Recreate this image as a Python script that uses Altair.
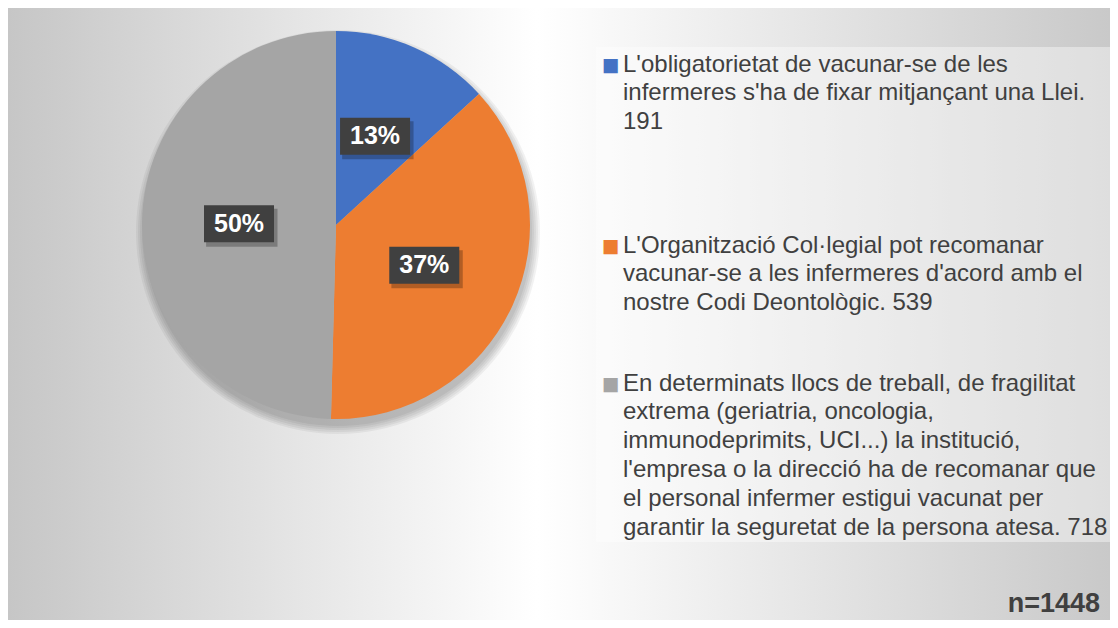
import altair as alt
import pandas as pd

# ---- data ----
categories = [
    "L'obligatorietat de vacunar-se de les\ninfermeres s'ha de fixar mitjançant una Llei.",
    "L'Organització Col·legial pot recomanar\nvacunar-se a les infermeres d'acord amb el\nnostre Codi Deontològic.",
    "En determinats llocs de treball, de fragilitat\nextrema (geriatria, oncologia,\nimmunodeprimits, UCI...) la institució,\nl'empresa o la direcció ha de recomanar que\nel personal infermer estigui vacunat per\ngarantir la seguretat de la persona atesa.",
]
values = [191, 539, 718]
value_sep = ["\n", " ", " "]
colors = ["#4472C4", "#ED7D31", "#A5A5A5"]
n_label = "n=1448"

# ---- layout ----
W, H = 1102, 612
CX, CY, R = 328, 217, 194
LR = 97
TEXT = "#404040"
LH = 28.8
LEG_Y0, LEG_STEP = 85.5, 181

legend_text = [c + s + str(v) for c, s, v in zip(categories, value_sep, values)]
marker_text = ["■" for _ in legend_text]

df = pd.DataFrame({
    "idx": list(range(len(values))),
    "cat": categories,
    "value": values,
    "legend": legend_text,
    "marker": marker_text,
})
one = pd.DataFrame({"a": [0]})

color = alt.Color("cat:N", scale=alt.Scale(domain=categories, range=colors), legend=None)

bg = alt.Chart(one).mark_rect(
    fill={
        "gradient": "linear", "x1": 0, "y1": 0.5, "x2": 1, "y2": 0.5,
        "stops": [
            {"offset": 0, "color": "#C6C6C6"},
            {"offset": 0.48, "color": "#FFFFFF"},
            {"offset": 1, "color": "#C9C9C9"},
        ],
    }
).encode(x=alt.value(0), x2=alt.value(W), y=alt.value(0), y2=alt.value(H))

legend_box = alt.Chart(one).mark_rect(fill="white", opacity=0.4).encode(
    x=alt.value(588), x2=alt.value(1106), y=alt.value(39), y2=alt.value(534)
)

shadows = [
    alt.Chart(one).mark_arc(theta=0, theta2=6.2832, outerRadius=R + 2 * k, fill="black", opacity=0.05)
    .encode(x=alt.value(CX + 2), y=alt.value(CY + 7))
    for k in range(0, 5)
]

pie = alt.Chart(df).mark_arc(outerRadius=R).encode(
    theta=alt.Theta("value:Q", stack=True),
    color=color,
    order=alt.Order("idx:Q"),
    x=alt.value(CX),
    y=alt.value(CY),
)

lab = alt.Chart(df).transform_joinaggregate(
    total="sum(value)"
).transform_window(
    cum="sum(value)", sort=[alt.SortField("idx")], frame=[None, 0]
).transform_calculate(
    mid="(datum.cum - datum.value / 2) / datum.total * 2 * PI",
    px=f"{CX} + {LR} * sin(datum.mid)",
    py=f"{CY} - {LR} * cos(datum.mid)",
    pct="datum.value / datum.total",
)
pos = dict(x=alt.X("px:Q", scale=None), y=alt.Y("py:Q", scale=None))

box_shadow = lab.mark_point(
    shape="M-0.94,-0.43H1.1V0.66H-0.94Z", filled=True, size=4900,
    color="black", opacity=0.25, strokeWidth=0
).encode(**pos)
box = lab.mark_point(
    shape="M-1,-0.53H1V0.53H-1Z", filled=True, size=4900,
    color="#404040", opacity=1, strokeWidth=0
).encode(**pos)
box_text = lab.mark_text(
    font="Liberation Sans", fontSize=25, fontWeight="bold", color="white",
    align="center", baseline="middle"
).encode(**pos, text=alt.Text("pct:Q", format=".0%"))

leg = alt.Chart(df).transform_calculate(
    nlines="length(split(datum.legend, '\\n'))",
    ly=f"{LEG_Y0} + datum.idx * {LEG_STEP} - (datum.nlines - 1) / 2 * {LH}",
)
leg_y = alt.Y("ly:Q", scale=None)
legend_markers = leg.mark_text(
    font="Liberation Sans", fontSize=29, align="center", baseline="middle", dy=1
).encode(x=alt.value(602.5), y=leg_y, text="marker:N", color=color)
legend_labels = leg.mark_text(
    font="Liberation Sans", fontSize=24, lineHeight=LH, align="left",
    baseline="middle", lineBreak="\n", color=TEXT
).encode(x=alt.value(615), y=leg_y, text="legend:N")

n_text = alt.Chart(one).mark_text(
    font="Liberation Sans", fontSize=27, fontWeight="bold", color=TEXT,
    align="right", baseline="alphabetic"
).encode(x=alt.value(1092), y=alt.value(604), text=alt.value(n_label))

chart = alt.layer(
    bg, legend_box, *shadows, pie, box_shadow, box, box_text,
    legend_markers, legend_labels, n_text
).resolve_scale(
    x="independent", y="independent"
).properties(
    width=W, height=H, padding=0,
    autosize=alt.AutoSizeParams(type="fit", contains="padding"),
).configure_view(stroke=None)

chart.save("out.html", embed_options={"renderer": "svg", "actions": False})
